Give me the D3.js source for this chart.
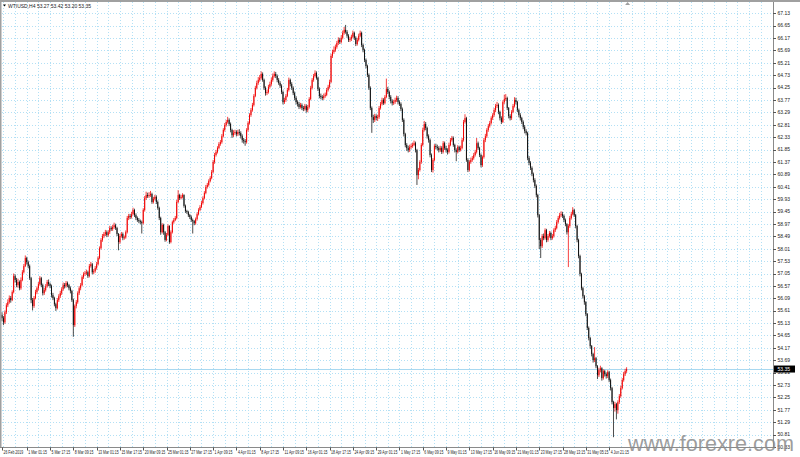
<!DOCTYPE html>
<html><head><meta charset="utf-8">
<script src="https://cdn.jsdelivr.net/npm/d3@7"></script>
<style>html,body{margin:0;padding:0;background:#fff;overflow:hidden}</style>
</head><body>
<svg id="chart" width="800" height="457"></svg>
<script>
// ---------- DATA ----------
const symbolInfo = "WTIUSD,H4  53.27 53.42 53.20 53.35";
const firstOpen = 55.45;
const close = [
55.32,55.16,55.55,55.82,55.94,56.10,56.02,56.33,56.95,56.80,
56.60,56.72,56.48,56.80,57.10,57.34,57.65,57.49,57.34,56.87,
56.02,55.79,56.10,56.33,56.48,56.64,56.87,56.60,56.29,56.41,
56.56,56.72,56.64,56.56,56.21,56.10,55.86,55.71,56.02,56.17,
56.29,56.44,56.60,56.56,56.68,56.60,56.48,56.37,56.02,55.05,
55.79,55.94,56.29,56.48,56.60,56.91,57.03,57.06,57.10,56.95,
57.34,57.41,57.10,57.14,57.26,57.41,57.65,58.03,58.35,58.50,
58.58,58.65,58.54,58.65,58.81,58.77,58.85,58.92,58.81,58.58,
58.27,58.50,58.58,58.42,58.45,58.65,59.20,59.28,59.24,59.35,
59.51,59.31,59.20,59.12,59.08,59.04,59.00,59.51,59.97,60.09,
60.05,60.09,60.13,59.82,59.94,60.02,59.82,59.59,59.20,58.65,
58.93,58.65,58.35,58.54,58.89,58.27,58.65,59.04,59.12,59.20,
59.82,60.09,59.97,60.02,60.09,59.67,59.47,59.43,59.31,59.24,
59.12,59.08,59.00,59.16,59.35,59.51,59.63,59.78,59.97,60.17,
60.40,60.48,60.63,60.75,60.98,61.37,61.64,61.76,61.91,62.07,
62.14,62.37,62.61,62.80,62.92,63.00,62.84,62.61,62.41,62.49,
62.53,62.45,62.53,62.49,62.37,62.22,62.18,62.14,62.61,62.88,
63.19,63.38,63.58,63.93,64.24,64.43,64.55,64.63,64.78,64.55,
64.24,64.04,64.08,64.28,64.39,64.55,64.70,64.78,64.70,64.55,
64.43,64.32,64.08,63.69,63.77,63.93,64.16,64.55,64.39,64.24,
64.04,63.85,63.69,63.62,63.50,63.58,63.46,63.42,63.54,63.38,
63.50,63.81,64.24,64.55,64.70,64.82,64.63,64.20,63.93,63.89,
63.85,63.93,63.97,64.16,64.28,64.47,65.48,65.63,65.71,65.83,
65.98,66.10,66.02,66.18,66.37,66.49,66.41,66.26,66.10,66.14,
66.22,66.37,66.18,65.94,66.10,66.26,66.37,65.90,65.71,65.32,
65.09,64.74,64.24,63.46,63.11,63.00,63.15,63.07,63.11,63.46,
63.62,63.77,63.65,63.89,64.20,64.08,63.89,63.73,63.65,63.69,
63.77,63.85,63.69,63.62,63.42,63.00,62.45,62.03,61.91,61.83,
61.95,61.99,62.03,62.10,61.83,60.86,61.06,61.37,62.03,62.61,
62.84,62.69,62.37,62.22,61.64,61.06,61.45,61.99,61.95,61.91,
61.83,61.91,61.76,62.10,61.91,61.83,61.76,62.03,62.22,62.30,
62.03,61.83,61.76,61.95,61.83,61.91,62.22,62.92,63.07,61.45,
61.06,61.37,61.45,61.52,61.64,61.76,62.10,61.91,61.64,61.25,
61.56,62.22,62.37,62.61,62.76,62.88,63.07,63.19,63.38,63.54,
63.58,63.31,63.07,62.92,63.69,63.81,63.85,63.46,63.15,63.07,
63.31,63.54,63.77,63.69,63.38,63.19,63.07,62.92,62.73,62.57,
62.49,61.52,61.33,61.14,60.90,60.67,60.44,60.09,59.31,58.35,
58.11,58.50,58.42,58.73,58.35,58.50,58.62,58.42,58.50,58.73,
58.81,59.04,59.20,59.31,59.35,59.28,59.12,58.96,58.65,58.89,
59.20,59.35,59.51,59.31,58.89,58.35,57.73,57.03,56.48,56.17,
55.94,55.48,54.94,54.55,54.24,53.93,53.70,53.77,53.46,53.11,
53.31,53.38,53.00,53.27,53.15,53.08,53.23,52.92,52.61,52.07,
51.84,51.99,51.76,52.07,52.30,52.61,52.92,53.15,53.27,53.35
];
const high = [
55.55,55.40,55.62,55.90,56.05,56.20,56.18,56.40,57.05,57.02,
56.88,56.85,56.78,56.90,57.18,57.42,57.75,57.70,57.55,57.40,
56.92,56.10,56.18,56.42,56.55,56.72,56.95,56.92,56.66,56.50,
56.64,56.80,56.82,56.70,56.62,56.30,56.15,55.92,56.10,56.25,
56.38,56.52,56.70,56.68,56.76,56.74,56.65,56.55,56.42,56.08,
55.85,56.02,56.36,56.56,56.68,56.98,57.10,57.15,57.20,57.16,
57.42,57.50,57.46,57.22,57.34,57.50,57.72,58.10,58.42,58.58,
58.66,58.74,58.72,58.72,58.90,58.88,58.94,59.02,58.98,58.86,
58.62,58.58,58.66,58.64,58.52,58.72,59.28,59.36,59.36,59.44,
59.60,59.56,59.38,59.26,59.20,59.14,59.10,59.58,60.05,60.22,
60.18,60.20,60.25,60.18,60.02,60.10,60.08,59.88,59.64,59.25,
59.00,58.98,58.70,58.62,58.96,58.92,58.72,59.10,59.20,59.28,
59.90,60.28,60.14,60.10,60.16,60.12,59.72,59.52,59.48,59.36,
59.30,59.18,59.12,59.22,59.42,59.58,59.70,59.86,60.04,60.24,
60.48,60.56,60.70,60.82,61.06,61.45,61.72,61.84,61.98,62.14,
62.22,62.45,62.68,62.88,63.00,63.12,63.06,62.90,62.66,62.60,
62.62,62.60,62.62,62.64,62.56,62.44,62.30,62.26,62.68,62.95,
63.26,63.46,63.66,64.00,64.32,64.52,64.66,64.74,64.88,64.84,
64.60,64.30,64.18,64.36,64.48,64.64,64.80,64.88,64.86,64.76,
64.62,64.50,64.38,64.14,63.86,64.00,64.24,64.64,64.60,64.46,
64.30,64.10,63.92,63.76,63.70,63.66,63.64,63.54,63.62,63.60,
63.58,63.88,64.32,64.62,64.78,64.92,64.88,64.68,64.26,64.02,
63.96,64.02,64.06,64.24,64.36,64.56,65.56,65.72,65.85,65.92,
66.06,66.20,66.18,66.28,66.46,66.60,66.68,66.48,66.32,66.22,
66.30,66.46,66.42,66.24,66.18,66.34,66.46,66.42,65.96,65.76,
65.38,65.14,64.80,64.30,63.52,63.20,63.24,63.22,63.20,63.54,
63.70,63.86,63.84,63.96,64.60,64.28,64.14,63.96,63.80,63.78,
63.86,63.94,63.92,63.76,63.68,63.48,63.06,62.50,62.10,62.00,
62.04,62.08,62.12,62.20,62.16,61.88,61.14,61.44,62.10,62.70,
62.96,62.92,62.74,62.44,62.28,61.70,61.52,62.06,62.08,62.04,
61.98,62.00,61.98,62.18,62.16,62.00,61.90,62.12,62.30,62.38,
62.36,62.08,61.90,62.02,62.00,62.00,62.30,63.00,63.22,63.12,
61.52,61.44,61.54,61.60,61.72,61.84,62.30,62.16,61.96,61.70,
61.62,62.30,62.46,62.68,62.84,62.96,63.14,63.26,63.46,63.62,
63.70,63.64,63.36,63.14,63.76,63.98,64.00,63.90,63.50,63.22,
63.38,63.62,63.88,63.86,63.74,63.44,63.26,63.12,62.98,62.80,
62.64,62.54,61.60,61.40,61.20,60.96,60.74,60.50,60.14,59.36,
58.42,58.58,58.60,58.80,58.78,58.58,58.70,58.68,58.58,58.80,
58.90,59.12,59.28,59.40,59.46,59.44,59.34,59.18,59.00,58.96,
59.28,59.44,59.62,59.56,59.36,58.94,58.40,57.78,57.08,56.54,
56.22,55.98,55.52,55.00,54.60,54.28,53.98,54.20,53.82,53.50,
53.40,53.48,53.42,53.34,53.32,53.22,53.30,53.28,52.98,52.66,
52.12,52.08,52.04,52.14,52.38,52.70,53.00,53.24,53.36,53.42
];
const low = [
55.20,55.05,55.10,55.48,55.75,55.88,55.92,55.98,56.28,56.70,
56.52,56.50,56.40,56.42,56.75,57.05,57.30,57.40,57.25,56.80,
55.90,55.62,55.72,56.05,56.25,56.40,56.58,56.52,56.20,56.22,
56.35,56.50,56.56,56.48,56.12,56.02,55.78,55.60,55.66,55.95,
56.10,56.22,56.38,56.47,56.50,56.52,56.40,56.28,55.95,54.60,
54.98,55.70,55.88,56.22,56.40,56.55,56.84,56.96,57.00,56.88,
56.90,57.28,57.02,57.02,57.08,57.20,57.36,57.60,57.98,58.28,
58.42,58.50,58.46,58.48,58.58,58.70,58.70,58.78,58.74,58.50,
57.95,58.20,58.44,58.34,58.36,58.40,58.60,59.12,59.16,59.18,
59.30,59.24,59.12,59.05,59.00,58.96,58.60,58.95,59.45,59.90,
59.98,59.98,60.02,59.75,59.76,59.88,59.74,59.52,59.12,58.55,
58.60,58.55,58.28,58.30,58.50,58.20,58.22,58.60,58.98,59.08,
59.15,59.78,59.90,59.92,59.96,59.60,59.40,59.36,59.24,59.16,
59.05,58.60,58.92,58.94,59.10,59.30,59.46,59.58,59.72,59.92,
60.12,60.34,60.42,60.58,60.70,60.94,61.30,61.58,61.70,61.86,
62.00,62.08,62.32,62.55,62.74,62.86,62.76,62.52,62.30,62.34,
62.42,62.36,62.38,62.40,62.28,62.12,62.08,62.00,62.08,62.55,
62.82,63.12,63.32,63.52,63.88,64.18,64.36,64.48,64.56,64.48,
64.16,63.94,63.96,64.02,64.22,64.32,64.48,64.64,64.62,64.46,
64.36,64.24,64.00,63.60,63.62,63.70,63.88,64.10,64.30,64.16,
63.96,63.76,63.60,63.52,63.42,63.44,63.38,63.34,63.36,63.28,
63.30,63.44,63.76,64.18,64.48,64.64,64.56,64.12,63.84,63.80,
63.76,63.78,63.86,63.92,64.10,64.22,64.42,65.40,65.56,65.64,
65.76,65.90,65.94,65.96,66.12,66.30,66.34,66.18,66.02,66.02,
66.06,66.16,66.10,65.86,65.88,66.04,66.20,65.82,65.62,65.24,
65.00,64.66,64.16,63.38,62.50,62.88,62.92,62.98,62.96,63.04,
63.40,63.56,63.58,63.60,63.84,64.00,63.80,63.64,63.56,63.58,
63.62,63.70,63.60,63.54,63.34,62.92,62.36,61.94,61.80,61.74,
61.76,61.88,61.92,61.98,61.74,60.48,60.70,61.00,61.30,61.98,
62.55,62.60,62.28,62.12,61.55,60.98,60.96,61.40,61.86,61.82,
61.74,61.76,61.68,61.70,61.84,61.74,61.66,61.70,61.98,62.16,
61.96,61.74,61.40,61.70,61.76,61.78,61.86,62.16,62.86,61.38,
60.98,61.00,61.30,61.38,61.46,61.58,61.70,61.84,61.56,61.16,
61.18,61.50,62.14,62.30,62.54,62.70,62.82,63.00,63.12,63.30,
63.46,63.22,62.98,62.84,62.88,63.62,63.74,63.38,63.06,62.98,
63.00,63.26,63.48,63.60,63.30,63.10,62.98,62.84,62.64,62.48,
62.40,61.44,61.24,61.06,60.82,60.58,60.36,60.00,59.22,58.00,
57.65,58.04,58.34,58.36,58.26,58.28,58.44,58.34,58.36,58.44,
58.66,58.76,58.98,59.14,59.24,59.20,59.04,58.88,58.56,57.30,
58.82,59.14,59.30,59.24,58.80,58.26,57.64,56.94,56.40,56.08,
55.84,55.40,54.86,54.46,54.14,53.84,53.60,53.62,53.38,52.96,
53.04,53.22,52.90,52.94,53.06,52.98,53.00,52.84,52.52,51.98,
50.71,51.70,51.40,51.62,52.00,52.24,52.56,52.86,53.08,53.20
];
const timeLabels = ["26 Feb 2019","1 Mar 01:15","5 Mar 17:15","8 Mar 09:15","13 Mar 01:15","15 Mar 17:15","20 Mar 09:15","25 Mar 01:15","27 Mar 17:15","1 Apr 09:15","4 Apr 01:15","8 Apr 17:15","11 Apr 09:15","16 Apr 01:15","18 Apr 17:15","24 Apr 09:15","29 Apr 01:15","1 May 17:15","6 May 09:15","9 May 01:15","13 May 17:15","16 May 09:15","21 May 01:15","23 May 17:15","28 May 13:15","31 May 05:15","4 Jun 21:15"];
const timeLabelBars = [0,17,33,49,65,81,97,113,129,145,161,177,193,209,225,241,257,273,289,305,321,337,353,369,385,401,417];
const priceTicks = [67.13,66.65,66.17,65.69,65.21,64.73,64.25,63.77,63.29,62.81,62.33,61.85,61.37,60.89,60.41,59.93,59.45,58.97,58.49,58.01,57.53,57.05,56.57,56.09,55.61,55.13,54.65,54.17,53.69,53.21,52.73,52.25,51.77,51.29,50.81,50.33];
const watermark = "www.forexre.com";

// ---------- CHART ----------
const svg = d3.select("#chart");
const W = 800, H = 457;
const plotL = 2, plotR = 773, plotT = 2, plotB = 447.5;
const n = close.length;
const open = close.map((c, i) => i === 0 ? firstOpen : close[i - 1]);

const x = d3.scaleLinear().domain([0, n - 1]).range([2, 626.6]);
const y = d3.scaleLinear().domain([priceTicks[priceTicks.length - 1], priceTicks[0]]).range([447, 13.3]);
const barStep = x(1) - x(0);

svg.append("rect").attr("width", W).attr("height", H).attr("fill", "#fff");

// grid
const gGrid = svg.append("g").attr("stroke", "#b3e0f5").attr("stroke-dasharray", "1,2").attr("stroke-width", 1);
const gridBars = d3.range(1, Math.floor(x.invert(plotR)), 8);
gGrid.selectAll("line.v").data(gridBars).join("line")
  .attr("x1", d => Math.round(x(d)) + 0.5).attr("x2", d => Math.round(x(d)) + 0.5)
  .attr("y1", plotT).attr("y2", plotB);
gGrid.selectAll("line.h").data(priceTicks).join("line")
  .attr("x1", plotL).attr("x2", plotR)
  .attr("y1", d => Math.round(y(d)) + 0.5).attr("y2", d => Math.round(y(d)) + 0.5);

// current price line
const last = close[n - 1];
svg.append("line").attr("x1", plotL).attr("x2", plotR)
  .attr("y1", Math.round(y(last)) + 0.5).attr("y2", Math.round(y(last)) + 0.5)
  .attr("stroke", "#a8d8f0").attr("stroke-width", 1);

// candles
const gC = svg.append("g");
const idx = d3.range(n);
const col = i => close[i] >= open[i] ? "#f00000" : "#101010";
gC.selectAll("line").data(idx).join("line")
  .attr("x1", i => x(i)).attr("x2", i => x(i))
  .attr("y1", i => y(Math.max(high[i], open[i], close[i])))
  .attr("y2", i => y(Math.min(low[i], open[i], close[i])))
  .attr("stroke", col).attr("stroke-width", 0.75);
gC.selectAll("rect").data(idx).join("rect")
  .attr("x", i => x(i) - barStep * 0.33)
  .attr("width", barStep * 0.66)
  .attr("y", i => y(Math.max(open[i], close[i])))
  .attr("height", i => Math.max(0.6, Math.abs(y(open[i]) - y(close[i]))))
  .attr("fill", col);

// frame
svg.append("rect").attr("x", 0).attr("y", 0).attr("width", W).attr("height", 2).attr("fill", "#a0a0a0");
svg.append("rect").attr("x", 0).attr("y", 0).attr("width", 1.5).attr("height", plotB).attr("fill", "#a0a0a0");
svg.append("line").attr("x1", plotR + 0.5).attr("x2", plotR + 0.5).attr("y1", plotT).attr("y2", plotB)
  .attr("stroke", "#8a8a8a");
svg.append("line").attr("x1", 0).attr("x2", plotR).attr("y1", plotB).attr("y2", plotB)
  .attr("stroke", "#8a8a8a");
// chart shift marker
svg.append("path").attr("d", `M${x(n-1)+1},2 l-2.5,3 l5,0 z`).attr("fill", "#a0a0a0");

const font = "'Liberation Sans', Arial, sans-serif";
// price axis
const gY = svg.append("g").attr("font-family", font).attr("font-size", 5).attr("fill", "#222");
gY.selectAll("line").data(priceTicks).join("line")
  .attr("x1", plotR).attr("x2", plotR + 3)
  .attr("y1", d => Math.round(y(d)) + 0.5).attr("y2", d => Math.round(y(d)) + 0.5)
  .attr("stroke", "#555");
gY.selectAll("text").data(priceTicks).join("text")
  .attr("x", plotR + 4.5).attr("y", d => y(d) + 1.8)
  .text(d => d.toFixed(2));
// current price label
svg.append("rect").attr("x", plotR + 1).attr("y", y(last) - 3.5).attr("width", 21).attr("height", 7).attr("fill", "#000");
svg.append("text").attr("x", plotR + 4.5).attr("y", y(last) + 1.8).attr("font-family", font)
  .attr("font-size", 5).attr("fill", "#fff").text(last.toFixed(2));

// time axis
const gX = svg.append("g").attr("font-family", font).attr("font-size", 5).attr("fill", "#222");
gX.selectAll("line").data(timeLabelBars).join("line")
  .attr("x1", d => Math.round(x(d)) + 0.5).attr("x2", d => Math.round(x(d)) + 0.5)
  .attr("y1", plotB).attr("y2", plotB + 3).attr("stroke", "#555");
gX.selectAll("text").data(timeLabels).join("text")
  .attr("transform", (d, i) => `translate(${x(timeLabelBars[i]) + 1.5},454) scale(0.7,1)`)
  .text(d => d);

// top-left info
svg.append("path").attr("d", "M3,4.5 l3,0 l-1.5,2 z").attr("fill", "#000");
svg.append("text").attr("x", 8).attr("y", 7.8).attr("font-family", font).attr("font-size", 5)
  .attr("fill", "#222").text(symbolInfo);

// watermark
svg.append("text").attr("x", 628).attr("y", 451).attr("font-family", font)
  .attr("font-size", 21.5).attr("fill", "#8c8c8c").attr("fill-opacity", 0.85)
  .attr("textLength", 166).attr("lengthAdjust", "spacingAndGlyphs").text(watermark);
</script>
</body></html>
